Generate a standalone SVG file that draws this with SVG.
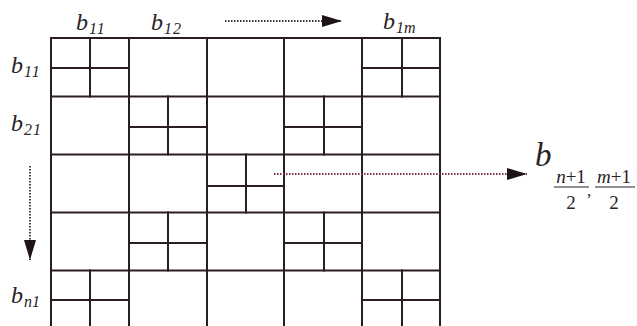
<svg xmlns="http://www.w3.org/2000/svg" width="637" height="326" viewBox="0 0 637 326">
<style>
.g{stroke:#2a1e22;stroke-width:2;fill:none;stroke-linecap:square}
.lb{font-family:"Liberation Serif",serif;font-style:italic;fill:#2a2226}
.up{font-family:"Liberation Serif",serif;fill:#2a2226}
.dot{stroke-width:2;stroke-dasharray:1.5 1.5;fill:none}
</style>
<defs>
<marker id="ah" markerWidth="20" markerHeight="12" refX="20" refY="6" orient="auto" markerUnits="userSpaceOnUse">
<path d="M0,0 L20,6 L0,12 Z" fill="#1e1418"/>
</marker>
</defs>
<rect width="637" height="326" fill="#ffffff"/>
<g id="grid" class="g">
<path d="M51,38 H440 V330 M51,38 V330"/>
<path d="M129,38 V330 M207,38 V330 M284,38 V330 M362,38 V330"/>
<path d="M51,96.5 H440 M51,154.5 H440 M51,212.5 H440 M51,270.5 H440"/>
<path d="M90,38 V96.5 M51,68 H129"/>
<path d="M402,38 V96.5 M362,68 H440"/>
<path d="M168,96.5 V154.5 M129,127 H207"/>
<path d="M324,96.5 V154.5 M284,127 H362"/>
<path d="M246,154.5 V212.5 M207,186 H284"/>
<path d="M168,212.5 V270.5 M129,243 H207"/>
<path d="M324,212.5 V270.5 M284,243 H362"/>
<path d="M90,270.5 V330 M51,300 H129"/>
<path d="M402,270.5 V330 M362,300 H440"/>
</g>
<g id="labels">
<g id="top-b11"><text class="lb" x="76" y="30" font-size="24">b</text><text class="lb" x="89" y="34" font-size="16" letter-spacing="1">11</text></g>
<g id="top-b12"><text class="lb" x="151" y="30" font-size="24">b</text><text class="lb" x="164" y="34" font-size="16" letter-spacing="1">12</text></g>
<g id="top-b1m"><text class="lb" x="383" y="29" font-size="24">b</text><text class="lb" x="396" y="33" font-size="16">1m</text></g>
<g id="left-b11"><text class="lb" x="11" y="73" font-size="24">b</text><text class="lb" x="24" y="77" font-size="16" letter-spacing="1">11</text></g>
<g id="left-b21"><text class="lb" x="11" y="131" font-size="24">b</text><text class="lb" x="24" y="135" font-size="16" letter-spacing="1">21</text></g>
<g id="left-bn1"><text class="lb" x="11" y="303" font-size="24">b</text><text class="lb" x="24" y="307" font-size="16">n1</text></g>
<g id="center-label">
<text class="lb" x="535" y="166" font-size="33">b</text>
<text class="up" x="571" y="183" font-size="19" text-anchor="middle"><tspan font-style="italic">n</tspan>+1</text>
<line x1="554" y1="187" x2="589" y2="187" stroke="#2a2226" stroke-width="1"/>
<text class="up" x="571" y="209" font-size="19" text-anchor="middle">2</text>
<text class="up" x="587" y="196" font-size="17">,</text>
<text class="up" x="614" y="183" font-size="19" text-anchor="middle"><tspan font-style="italic">m</tspan>+1</text>
<line x1="595" y1="187" x2="635" y2="187" stroke="#2a2226" stroke-width="1"/>
<text class="up" x="614" y="209" font-size="19" text-anchor="middle">2</text>
</g>
</g>
<g id="connectors">
<line class="dot" x1="225" y1="21" x2="342" y2="21" stroke="#3a3034" marker-end="url(#ah)"/>
<line class="dot" x1="30" y1="166" x2="30" y2="260" stroke="#4a3848" marker-end="url(#ah)"/>
<line class="dot" x1="274" y1="174" x2="527" y2="174" stroke="#7a3050" marker-end="url(#ah)"/>
</g>
</svg>
